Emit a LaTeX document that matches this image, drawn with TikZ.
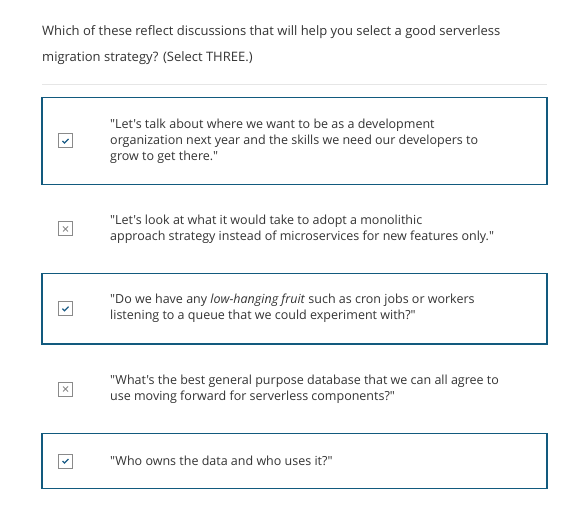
\documentclass[tikz,border=0pt]{standalone}
\usepackage{fontspec}
\setmainfont{Open Sans}[Ligatures=TeXOff]
\usepackage{xcolor}

\definecolor{qtext}{HTML}{333333}
\definecolor{boxblue}{HTML}{125A7E}
\definecolor{tickblue}{HTML}{1B5C86}
\definecolor{cbgray}{HTML}{8A8A8A}
\definecolor{rulegray}{HTML}{E6E6E6}

\tikzset{
  answerbox/.style={draw=boxblue, line width=1.2pt, minimum width=505pt, inner sep=0pt},
  checkbox/.style={draw=cbgray, line width=1pt, minimum size=14pt, inner sep=0pt},
  answertext/.style={anchor=west, align=left, inner sep=0pt, text=qtext,
    font=\fontsize{12.5}{16}\selectfont},
}

\begin{document}
\begin{tikzpicture}[x=1pt, y=-1pt]
                        \useasboundingbox (0,0) rectangle (581,529);
                        %\draw[red] (0,0) rectangle (581,529);

                        \node [anchor=west, align=left, inner sep=0pt, text=qtext,
                          font=\fontsize{13}{26.5}\selectfont] (question) at (42,45.3)
                          {Which of these reflect discussions that will help you select a good serverless\\
                           migration strategy? (Select THREE.)};

                        \draw [rulegray, line width=1pt] (42,84.5) -- (547,84.5);

                        \node [answerbox, minimum height=87pt] (box1) at (294.5,141) {};
                        \node [answerbox, minimum height=70.5pt] (box3) at (294.5,308.7) {};
                        \node [answerbox, minimum height=55pt] (box5) at (294.5,461) {};

                        \node [checkbox] (cb1) at (65.5,141) {};
                        \node [checkbox] (cb2) at (65.5,229) {};
                        \node [checkbox] (cb3) at (65.5,308.7) {};
                        \node [checkbox] (cb4) at (65.5,389) {};
                        \node [checkbox] (cb5) at (65.5,461) {};

                        % ticks and crosses
                        \draw [tickblue, line width=1.3pt] ([shift={(-3,0)}]cb1.center) -- ++(2,2) -- ++(4,-4);
                        \draw [tickblue, line width=1.3pt] ([shift={(-3,0)}]cb3.center) -- ++(2,2) -- ++(4,-4);
                        \draw [tickblue, line width=1.3pt] ([shift={(-3,0)}]cb5.center) -- ++(2,2) -- ++(4,-4);
                        \draw [cbgray, line width=0.8pt] ([shift={(-2.5,-2.5)}]cb2.center) -- ++(5,5)
                          ([shift={(-2.5,2.5)}]cb2.center) -- ++(5,-5);
                        \draw [cbgray, line width=0.8pt] ([shift={(-2.5,-2.5)}]cb4.center) -- ++(5,5)
                          ([shift={(-2.5,2.5)}]cb4.center) -- ++(5,-5);

                        \node [answertext] (a1) at (110,141)
                          {"Let's talk about where we want to be as a development\\
                           organization next year and the skills we need our developers to\\
                           grow to get there."};
                        \node [answertext] (a2) at (110,229)
                          {"Let's look at what it would take to adopt a monolithic\\
                           approach strategy instead of microservices for new features only."};
                        \node [answertext] (a3) at (110,308.7)
                          {"Do we have any \textit{low-hanging fruit} such as cron jobs or workers\\
                           listening to a queue that we could experiment with?"};
                        \node [answertext] (a4) at (110,389)
                          {"What's the best general purpose database that we can all agree to\\
                           use moving forward for serverless components?"};
                        \node [answertext] (a5) at (110,461)
                          {"Who owns the data and who uses it?"};
                    \end{tikzpicture}
\end{document}
